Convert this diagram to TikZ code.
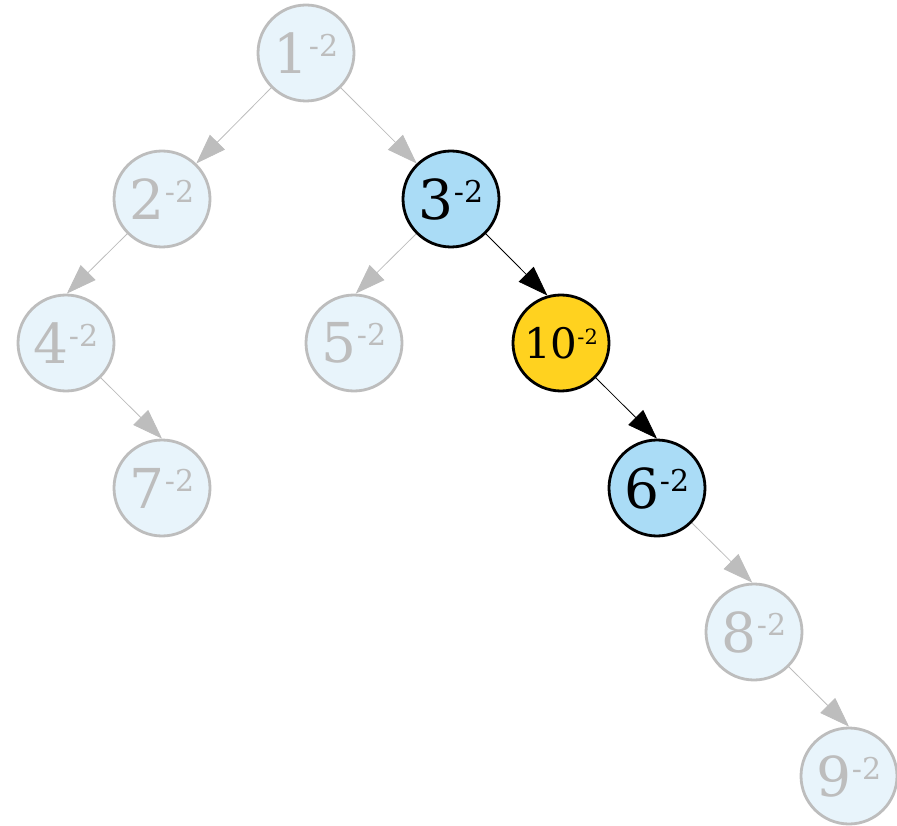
\documentclass[tikz,border=0pt]{standalone}
\usepackage{fontspec}
\setmainfont{DejaVu Serif}
\usetikzlibrary{arrows.meta}
\definecolor{gline}{HTML}{BDBDBD}
\definecolor{gfill}{HTML}{E8F4FB}
\definecolor{bfill}{HTML}{AADCF6}
\definecolor{yfill}{HTML}{FFD21F}
\newcommand\biglab[1]{{\fontsize{55pt}{55pt}\selectfont #1}\raisebox{17pt}{\fontsize{30pt}{30pt}\selectfont -2}}
\newcommand\smalllab[1]{{\fontsize{42pt}{42pt}\selectfont #1}\raisebox{14pt}{\fontsize{21pt}{21pt}\selectfont -2}}
\begin{document}
\begin{tikzpicture}[x=1pt,y=-1pt,
  nd/.style={circle,minimum size=96pt,inner sep=0pt,line width=2.8pt},
  dim/.style={nd,draw=gline,fill=gfill,text=gline},
  hot/.style={nd,draw=black,fill=bfill,text=black},
  cur/.style={nd,draw=black,fill=yfill,text=black},
  dedge/.style={draw=gline,line width=0.8pt,-{Triangle[length=30pt,width=21pt]},gline},
  hedge/.style={draw=black,line width=0.8pt,-{Triangle[length=30pt,width=21pt]}}]
\useasboundingbox (0,0) rectangle (897,826);
\node[dim] (n1) at (306,53) {\biglab{1}};
\node[dim] (n2) at (162,199) {\biglab{2}};
\node[hot] (n3) at (451,199) {\biglab{3}};
\node[dim] (n4) at (66,343) {\biglab{4}};
\node[dim] (n5) at (354,343) {\biglab{5}};
\node[cur] (n10) at (561,343) {\smalllab{10}};
\node[dim] (n7) at (162,488) {\biglab{7}};
\node[hot] (n6) at (657,488) {\biglab{6}};
\node[dim] (n8) at (754,632) {\biglab{8}};
\node[dim] (n9) at (849,776) {\biglab{9}};
\draw[dedge] (n1.-135) -- (n2.46);
\draw[dedge] (n1.-45) -- (n3.134);
\draw[dedge] (n2.-135) -- (n4.89);
\draw[dedge] (n3.-135) -- (n5.88);
\draw[hedge] (n3.-45) -- (n10.106);
\draw[dedge] (n4.-45) -- (n7.90);
\draw[hedge] (n10.-45) -- (n6.90);
\draw[dedge] (n6.-45) -- (n8.92);
\draw[dedge] (n8.-45) -- (n9.90);
\end{tikzpicture}
\end{document}
